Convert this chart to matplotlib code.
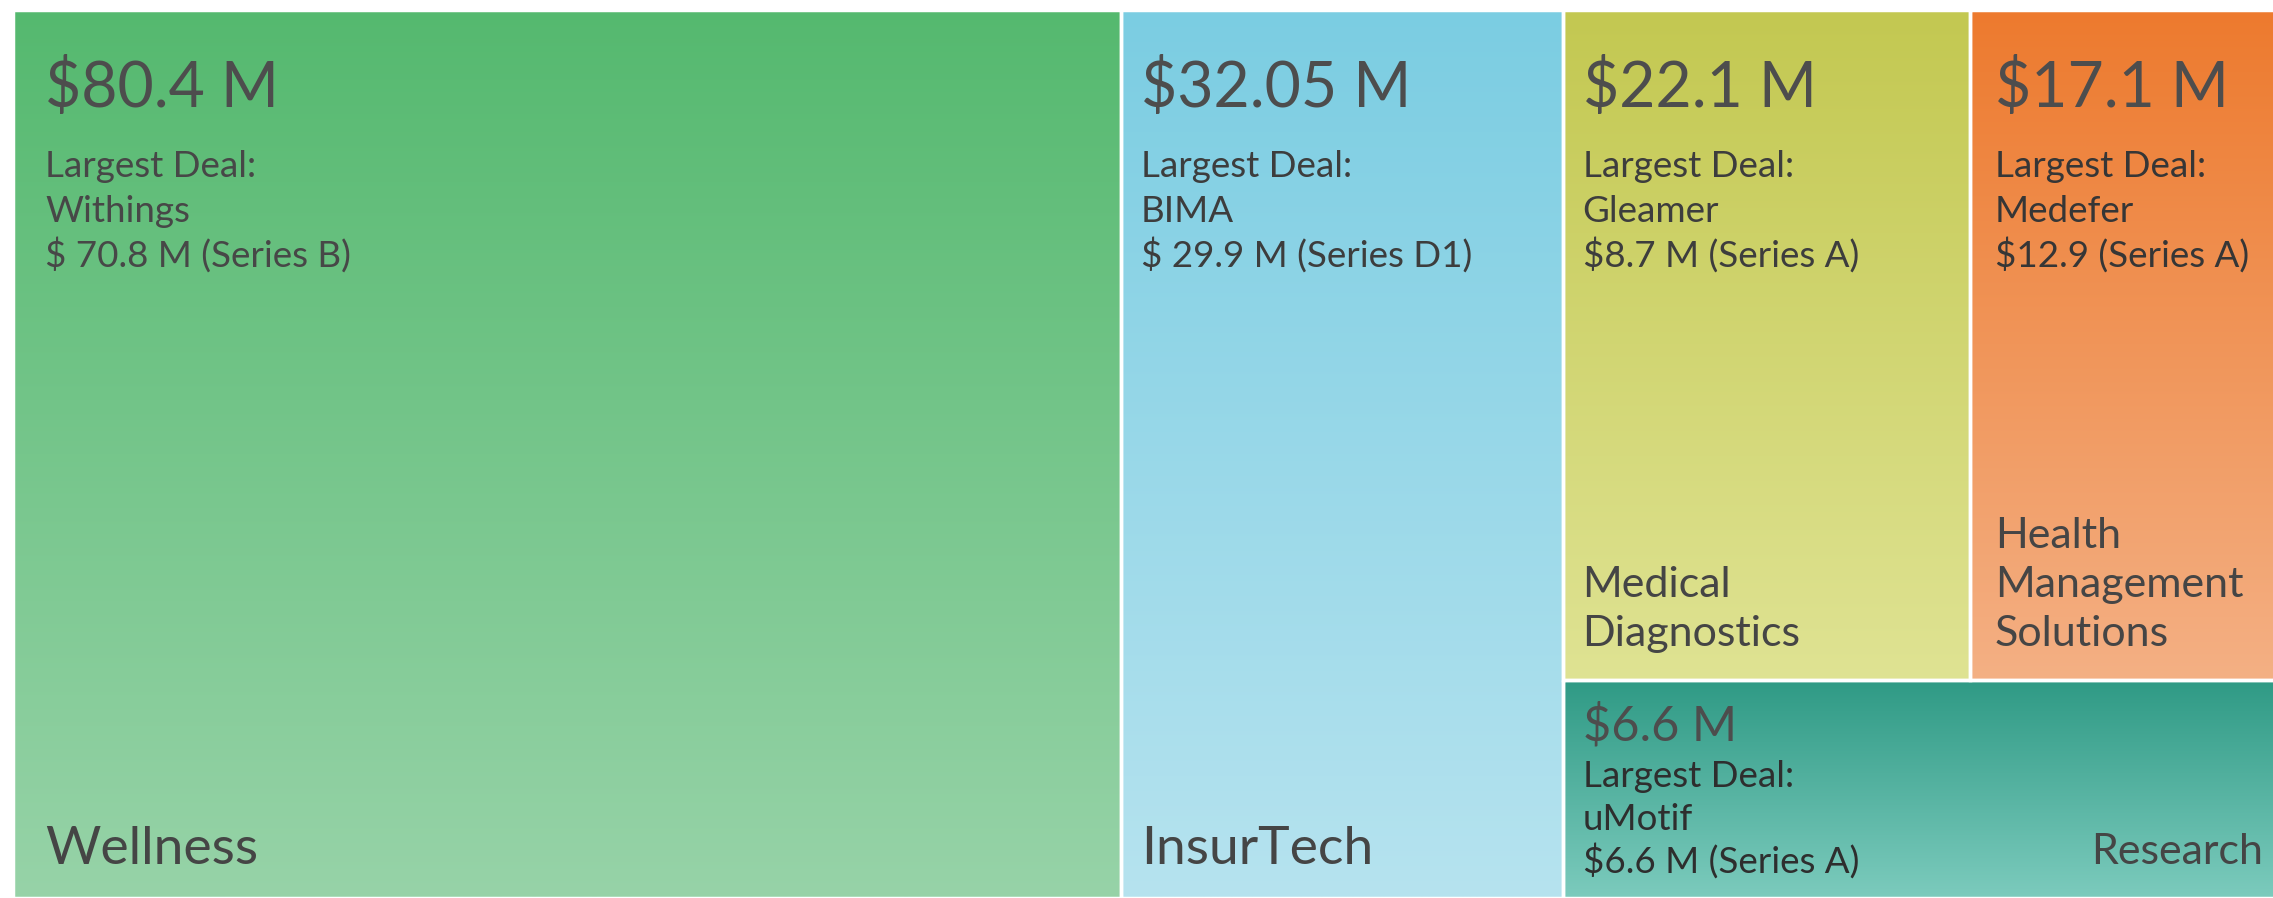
"""Treemap of funding by sector with largest deal per sector."""

import matplotlib
matplotlib.use("Agg")  # headless backend
import matplotlib.pyplot as plt
import numpy as np
from matplotlib.colors import to_rgb
from matplotlib.patches import Rectangle

plt.rcParams["font.family"] = ["Lato", "DejaVu Sans"]

# data
sectors = ["Wellness", "InsurTech", "Medical\nDiagnostics",
           "Health\nManagement\nSolutions", "Research"]
totals = [80.4, 32.05, 22.1, 17.1, 6.6]
total_labels = ["$80.4 M", "$32.05 M", "$22.1 M", "$17.1 M", "$6.6 M"]
deal_companies = ["Withings", "BIMA", "Gleamer", "Medefer", "uMotif"]
deal_amounts = ["$ 70.8 M (Series B)", "$ 29.9 M (Series D1)",
                "$8.7 M (Series A)", "$12.9 (Series A)", "$6.6 M (Series A)"]

# styling
top_colors = ["#55b96f", "#7bcde2", "#c3c851", "#ed7a2e", "#2f9a85"]
bottom_colors = ["#97d3a8", "#b6e3ef", "#dfe393", "#f4b084", "#7ccbbd"]
detail_colors = ["#474747", "#3d3d3d", "#3d3d3d", "#363636", "#2e2e2e"]
label_sizes = [38.5, 38.5, 31, 31, 31]
text_pad = [32, 20, 20, 25, 20]

W, H = 2273, 898
LEFT, TOP, RIGHT, BOTTOM = 13, 10, 2285, 898
GROUP_SHARE = 0.318     # width share of the right-hand block
RESEARCH_SHARE = 0.245  # height share of the bottom row in that block


def layout(vals):
    width = RIGHT - LEFT
    height = BOTTOM - TOP
    big_w = width * (1 - GROUP_SHARE)
    rects = []
    x = LEFT
    for v in vals[:2]:
        w = big_w * v / sum(vals[:2])
        rects.append((x, TOP, w, height))
        x += w
    gw = RIGHT - x
    top_h = height * (1 - RESEARCH_SHARE)
    gx = x
    for v in vals[2:4]:
        w = gw * v / sum(vals[2:4])
        rects.append((gx, TOP, w, top_h))
        gx += w
    rects.append((x, TOP + top_h, gw, height - top_h))
    return rects


fig = plt.figure(figsize=(W / 100, H / 100), dpi=100)
ax = fig.add_axes([0, 0, 1, 1])

rects = layout(totals)
for i, (x, y, w, h) in enumerate(rects):
    c0 = np.array(to_rgb(top_colors[i]))
    c1 = np.array(to_rgb(bottom_colors[i]))
    t = np.linspace(0, 1, 256)[:, None, None]
    grad = c0 * (1 - t) + c1 * t
    ax.imshow(grad, extent=(x, x + w, y + h, y), origin="upper",
              aspect="auto", interpolation="bilinear", zorder=1)
    ax.add_patch(Rectangle((x, y), w, h, fill=False, edgecolor="white",
                           lw=2.5, zorder=2))

    tx = x + text_pad[i]
    compact = h < 300
    if compact:
        ax.text(tx, y + 60, total_labels[i], fontsize=35, color="#4d4d4d",
                va="baseline", ha="left", zorder=3)
        lines_y = [y + 107, y + 150, y + 192]
    else:
        ax.text(tx, y + 97, total_labels[i], fontsize=45, color="#4d4d4d",
                va="baseline", ha="left", zorder=3)
        lines_y = [y + 167, y + 212, y + 257]
    for ly, s in zip(lines_y, ["Largest Deal:", deal_companies[i], deal_amounts[i]]):
        ax.text(tx, ly, s, fontsize=26.5, color=detail_colors[i],
                va="baseline", ha="left", zorder=3)

    # sector name, anchored to the bottom of the cell
    parts = sectors[i].split("\n")
    for k, part in enumerate(reversed(parts)):
        by = y + h - 34 - k * 49
        if compact:
            ax.text(min(x + w, W) - 10, by, part, fontsize=label_sizes[i],
                    color="#454545", va="baseline", ha="right", zorder=3)
        else:
            ax.text(tx, by, part, fontsize=label_sizes[i], color="#454545",
                    va="baseline", ha="left", zorder=3)

ax.set_xlim(0, W)
ax.set_ylim(H, 0)
ax.axis("off")
fig.savefig("out.png", dpi=100, facecolor="white")
plt.close(fig)
